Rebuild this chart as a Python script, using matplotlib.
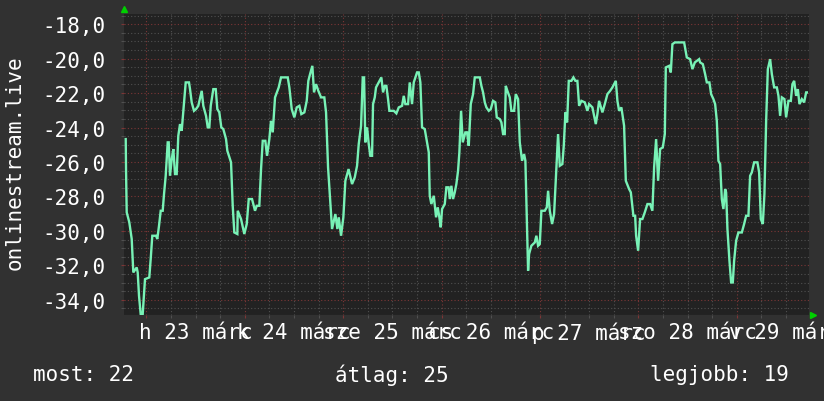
import matplotlib
matplotlib.use("Agg")
import matplotlib.pyplot as plt
from matplotlib.ticker import MultipleLocator

# ---- data (hours since 00:00 on 23 March, temperature) ----
hours = [
    -5.02, -4.95, -4.78, -4.15, -3.56, -3.17, -2.34, -2.10, -1.78, -1.37, -0.88, -0.63, -0.32,
    0.73, 1.07, 1.46, 2.37, 2.68, 3.10, 3.51, 4.00, 4.32, 4.73, 5.22, 5.46, 5.78, 6.20, 6.59,
    7.00, 7.41, 7.80, 8.22, 8.63, 9.20, 9.61, 10.41, 10.66, 11.07, 11.63, 12.12, 12.68, 13.51,
    13.90, 14.56, 14.98, 15.37, 15.71, 16.34, 16.93, 17.32, 17.80, 18.29, 18.78, 19.44, 19.76,
    20.66, 21.07, 21.46, 22.20, 22.29, 23.10, 23.90,
    24.49, 24.98, 25.78, 26.10, 26.51, 26.93, 27.56, 27.98, 28.39, 29.02, 29.44, 30.00, 30.41,
    30.83, 31.39, 32.29, 32.85, 34.49, 34.88, 35.46, 36.10, 36.68, 37.32, 37.80, 38.54, 39.12,
    39.51, 39.93, 40.49, 40.90, 41.39, 41.95, 42.61, 43.41, 43.83, 44.32, 44.80, 45.29, 46.10,
    46.59, 46.93, 47.49,
    48.05, 48.54, 49.32, 50.17, 50.83, 51.39, 51.80, 52.37, 52.78, 53.10, 53.41, 53.83, 54.24,
    54.63, 55.05, 55.29, 55.71, 56.02, 56.68, 57.32, 57.73, 58.15, 58.54, 58.95, 59.27, 60.34,
    60.98, 61.56, 62.37, 62.78, 63.17, 63.83, 64.24, 64.80, 65.22, 65.61, 66.02, 66.44, 66.83,
    67.24, 67.90, 68.46, 68.88, 69.12, 69.51, 70.10, 70.66, 71.07, 71.46, 71.80,
    72.12, 72.78, 73.17, 73.71, 74.00, 74.39, 74.80, 75.22, 75.61, 76.02, 76.34, 76.76, 77.17,
    77.80, 78.22, 78.63, 79.12, 79.68, 80.10, 81.32, 81.71, 82.12, 82.54, 82.93, 83.51, 84.00,
    84.56, 85.12, 85.46, 86.20, 86.59, 87.00, 87.41, 87.66, 88.05, 88.63, 89.02, 89.68, 90.10,
    90.66, 91.07, 91.63, 92.12, 92.44, 92.78, 93.10, 93.34, 93.90, 94.73, 95.12, 95.54, 95.95,
    96.34, 97.17, 97.66, 97.98, 98.39, 98.95, 99.44, 100.00, 100.41, 100.83, 101.46, 101.80,
    102.20, 102.61, 103.02, 103.66, 104.15, 104.63, 105.12, 105.54, 106.10, 106.93,
    107.56, 107.98, 108.78, 109.61, 110.00, 110.41, 111.22, 111.80, 112.44, 113.10, 113.66,
    114.49, 114.88, 115.29, 115.85, 116.51, 116.93, 117.73, 118.15, 118.78, 119.20, 119.44,
    119.93, 120.41, 120.98, 121.56, 122.20, 122.85, 123.41, 123.83, 124.32, 124.80, 125.29,
    125.95, 126.44, 126.68, 127.49, 127.90, 128.29, 128.88, 131.15, 131.80, 132.61, 133.17,
    133.76, 134.81,
    135.05, 135.71, 136.27, 136.68, 137.32, 137.73, 138.29, 138.71, 139.12, 139.51, 139.93,
    140.34, 140.73, 141.15, 141.39, 141.71, 142.20, 142.61, 143.02, 143.34, 143.83, 144.39,
    145.22, 145.78, 146.27, 146.83, 147.24, 147.66, 148.22, 149.02, 149.44, 149.85, 150.34,
    150.73, 151.15, 151.56, 152.12, 152.54, 153.10, 153.76, 154.15, 154.56, 154.98, 155.61,
    156.02, 156.59, 157.17, 157.56, 157.98, 158.46, 158.88, 159.27, 159.85, 160.41, 160.90,
    161.07,
]
temps = [
    -24.67, -26.41, -28.92, -29.50, -30.47, -32.41, -32.12, -32.41, -33.76, -34.83, -34.83, -33.96, -32.80,
    -32.70, -31.63, -30.28, -30.28, -30.47, -29.70, -28.83, -28.83, -27.86, -26.80, -24.86, -24.86, -26.80, -25.83, -25.25,
    -26.70, -26.70, -24.48, -23.80, -24.19, -22.54, -21.38, -21.38, -21.77, -22.54, -23.03, -22.93, -22.74, -21.87,
    -22.74, -23.32, -23.99, -23.99, -22.74, -21.77, -21.77, -22.93, -23.12, -23.99, -24.09, -24.67, -25.35,
    -26.02, -28.54, -30.09, -30.18, -28.83, -29.31, -30.18,
    -29.60, -28.15, -28.15, -28.44, -28.83, -28.54, -28.54, -26.41, -24.77, -24.77, -25.64, -24.67, -23.61,
    -24.28, -22.25, -21.67, -21.09, -21.09, -21.67, -22.93, -23.41, -22.83, -22.74, -23.22, -23.12, -22.45,
    -21.29, -20.90, -20.42, -21.96, -21.48, -21.87, -22.25, -22.25, -23.12, -26.31, -28.05, -29.89, -29.02,
    -29.89, -29.21, -30.28,
    -29.21, -27.09, -26.41, -27.28, -26.89, -26.22, -24.96, -23.90, -21.09, -21.09, -24.86, -23.99, -24.96,
    -25.64, -25.64, -22.64, -22.25, -21.67, -21.38, -21.09, -21.96, -21.58, -21.58, -22.35, -23.03, -23.03,
    -23.18, -22.83, -22.74, -22.16, -22.64, -22.64, -21.38, -22.64, -21.38, -21.09, -20.80, -20.80, -21.38,
    -23.99, -24.09, -24.86, -25.44, -27.96, -28.44, -27.96, -29.21, -28.63, -29.21, -29.79,
    -28.73, -28.44, -27.47, -27.47, -28.15, -27.38, -28.15, -27.76, -27.28, -26.51, -25.44, -23.03, -24.86,
    -24.28, -24.28, -25.06, -22.64, -22.06, -21.09, -21.09, -21.58, -21.96, -22.54, -22.83, -23.03, -22.93,
    -22.45, -22.54, -23.41, -23.51, -23.70, -24.38, -24.38, -21.58, -21.87, -22.25, -23.03, -23.03, -22.06,
    -22.35, -24.86, -25.93, -25.54, -25.93, -29.31, -32.31, -31.34, -30.86, -30.67, -30.28, -30.86, -30.76,
    -28.83, -28.83, -28.63, -27.67, -28.83, -29.60, -29.02, -26.31, -24.38, -26.22, -26.12, -25.06,
    -23.12, -23.70, -21.29, -21.29, -21.09, -21.29, -21.29, -22.74, -22.45, -22.54,
    -23.03, -22.64, -22.83, -23.80, -23.22, -22.45, -23.12, -22.64, -22.06, -21.87, -21.67,
    -21.29, -22.45, -23.03, -22.83, -23.90, -27.09, -27.57, -27.76, -29.12, -29.12, -30.28,
    -31.15, -29.31, -29.31, -28.92, -28.44, -28.44, -28.83, -26.31, -24.67, -27.09, -25.25,
    -25.15, -24.38, -20.51, -20.42, -20.80, -19.16, -19.06, -19.06, -19.93, -20.03, -20.61,
    -20.22, -20.03,
    -20.22, -20.32, -20.90, -21.38, -21.38, -22.06, -22.35, -22.64, -23.61, -25.93, -26.12,
    -28.15, -28.73, -27.57, -27.76, -29.89, -31.73, -32.99, -32.99, -31.73, -30.57, -30.09,
    -30.09, -29.60, -29.12, -29.12, -26.80, -26.60, -26.02, -26.02, -26.60, -29.31, -29.60,
    -27.86, -23.61, -20.61, -20.03, -20.90, -21.67, -21.67, -22.16, -23.32, -22.25, -22.35,
    -23.41, -22.45, -22.45, -21.48, -21.29, -22.16, -21.77, -22.64, -22.35, -22.54, -21.96,
    -21.96,
]

day_labels = ["h 23 márc", "k 24 márc", "sze 25 márc", "cs 26 márc",
              "p 27 márc", "szo 28 márc", "v 29 márc"]
y_ticks = [-34, -32, -30, -28, -26, -24, -22, -20, -18]
y_label = "onlinestream.live"
legend_names = ["most", "átlag", "legjobb"]
legend_values = [22, 25, 19]

# ---- style ----
MONO = "DejaVu Sans Mono"
FS = 15
BG = "#313131"
PLOT_BG = "#222222"
LINE = "#78f2b6"
MINOR = "#505050"
MAJOR = "#7c3636"

W, H = 824, 402
fig = plt.figure(figsize=(W / 100, H / 100), dpi=100, facecolor=BG)
ax = fig.add_axes([124 / W, 1 - 316 / H, 685 / W, 301 / H])
ax.set_facecolor(PLOT_BG)

ax.plot(hours, temps, color=LINE, lw=1.7, solid_joinstyle="miter", zorder=3)

ax.set_xlim(-5.44, 161.6)
ax.set_ylim(-34.88, -17.41)

ax.xaxis.set_major_locator(MultipleLocator(24))
ax.xaxis.set_minor_locator(MultipleLocator(6))
ax.set_xticklabels([])
ax.yaxis.set_minor_locator(MultipleLocator(0.5))
ax.set_yticks(y_ticks)
ax.set_yticklabels([f"{v:.1f}".replace(".", ",") for v in y_ticks],
                   family=MONO, fontsize=FS, color="white")

ax.set_axisbelow(True)
dots = (0, (1, 2))
ax.grid(which="minor", color=MINOR, ls=dots, lw=0.8)
ax.grid(which="major", color=MAJOR, ls=dots, lw=0.8)

ax.tick_params(which="both", direction="out", length=2.5, width=0.8)
ax.tick_params(axis="x", which="major", colors=MAJOR)
ax.tick_params(axis="y", which="major", colors=MAJOR, pad=11, labelcolor="white")
ax.tick_params(which="minor", colors=MINOR)
for s in ax.spines.values():
    s.set_visible(False)
ax.axhline(-34.88, color="#2a2a2a", lw=1.0, zorder=2)

# day labels centred at noon of each day
for i, lab in enumerate(day_labels):
    ax.text(12 + 24 * i, -0.022, lab, transform=ax.get_xaxis_transform(),
            ha="center", va="top", family=MONO, fontsize=FS, color="white",
            clip_on=False)

# axis arrows
ax.plot([0.0], [1 + 5 / 301], marker="^", color="#00d000", ms=4.5,
        transform=ax.transAxes, clip_on=False)
ax.plot([1 + 4 / 685], [0.0], marker=">", color="#00d000", ms=4.5,
        transform=ax.transAxes, clip_on=False)

fig.text(15 / W, 1 - 163 / H, y_label, rotation=90, ha="center", va="center",
         family=MONO, fontsize=FS, color="white")

leg_x = [33, 335, 650]
for x, n, v in zip(leg_x, legend_names, legend_values):
    fig.text(x / W, 1 - 375 / H, f"{n}: {v}", ha="left", va="center",
             family=MONO, fontsize=FS, color="white")

fig.savefig("out.png", dpi=100, facecolor=BG)
